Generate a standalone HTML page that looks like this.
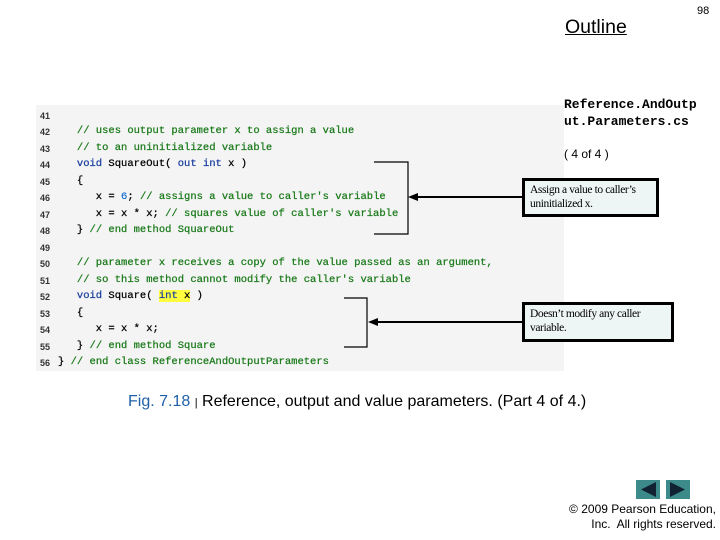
<!DOCTYPE html>
<html><head><style>
body{margin:0;width:720px;height:540px;background:#fff;position:relative;overflow:hidden;font-family:"Liberation Sans",sans-serif}
.a{position:absolute}
.code{left:36px;top:105px;width:528px;height:266px;background:#f4f4f4}
.ln{position:absolute;left:40px;font:bold 9px "Liberation Sans",sans-serif;color:#333}
.c{position:absolute;left:58px;font:10.5px "Liberation Mono",monospace;white-space:pre;color:#000;-webkit-text-stroke:0.25px}
.g{color:#1a7a1a}.b{color:#1a3fa0}.n{color:#1a6fd0}
.box{position:absolute;border:3px solid #000;background:#eef5f5;font:11.5px "Liberation Serif",serif;letter-spacing:-0.4px;line-height:14px;padding:2px 5px;box-sizing:border-box;white-space:nowrap}
</style></head><body>
<div class="a" style="left:565px;top:16px;font-size:19.5px;text-decoration:underline">Outline</div>
<div class="a" style="left:697px;top:5px;font-size:11px">98</div>
<div class="a" style="left:564px;top:96px;font:bold 13px 'Liberation Mono',monospace;line-height:17px">Reference.AndOutp<br>ut.Parameters.cs</div>
<div class="a" style="left:564px;top:147px;font-size:12px">( 4 of 4 )</div>
<div class="a code"></div>
<div class="ln" style="top:111px">41</div>
<div class="ln" style="top:127px">42</div><div class="c" style="top:125px">   <span class="g">// uses output parameter x to assign a value</span></div>
<div class="ln" style="top:144px">43</div><div class="c" style="top:142px">   <span class="g">// to an uninitialized variable</span></div>
<div class="ln" style="top:160px">44</div><div class="c" style="top:158px">   <span class="b">void</span> SquareOut( <span class="b">out int</span> x )</div>
<div class="ln" style="top:177px">45</div><div class="c" style="top:175px">   {</div>
<div class="ln" style="top:193px">46</div><div class="c" style="top:191px">      x = <span class="n">6</span>; <span class="g">// assigns a value to caller's variable</span></div>
<div class="ln" style="top:210px">47</div><div class="c" style="top:208px">      x = x * x; <span class="g">// squares value of caller's variable</span></div>
<div class="ln" style="top:226px">48</div><div class="c" style="top:224px">   } <span class="g">// end method SquareOut</span></div>
<div class="ln" style="top:243px">49</div>
<div class="ln" style="top:259px">50</div><div class="c" style="top:257px">   <span class="g">// parameter x receives a copy of the value passed as an argument,</span></div>
<div class="ln" style="top:276px">51</div><div class="c" style="top:274px">   <span class="g">// so this method cannot modify the caller's variable</span></div>
<div class="ln" style="top:292px">52</div><div class="c" style="top:290px">   <span class="b">void</span> Square( <span style="background:#ffff40"><span class="b">int</span> x</span> )</div>
<div class="ln" style="top:309px">53</div><div class="c" style="top:307px">   {</div>
<div class="ln" style="top:325px">54</div><div class="c" style="top:323px">      x = x * x;</div>
<div class="ln" style="top:342px">55</div><div class="c" style="top:340px">   } <span class="g">// end method Square</span></div>
<div class="ln" style="top:358px">56</div><div class="c" style="top:356px">} <span class="g">// end class ReferenceAndOutputParameters</span></div>
<svg class="a" style="left:0;top:0" width="720" height="540">
<path d="M374 162H408V234H374M344 298H367V347H344" fill="none" stroke="#000" stroke-width="1.2"/>
<line x1="522" y1="197" x2="416" y2="197" stroke="#000" stroke-width="2"/>
<polygon points="408,197 418,193 418,201" fill="#000"/>
<line x1="522" y1="322" x2="376" y2="322" stroke="#000" stroke-width="2"/>
<polygon points="368,322 378,318 378,326" fill="#000"/>
<rect x="636" y="480" width="24" height="19" fill="#3d8a8a"/>
<polygon points="641,489.5 656,482 656,497" fill="#123"/>
<rect x="666" y="480" width="24" height="19" fill="#3d8a8a"/>
<polygon points="685,489.5 670,482 670,497" fill="#123"/>
</svg>
<div class="box" style="left:522px;top:178px;width:137px;height:39px">Assign a value to caller’s<br>uninitialized x.</div>
<div class="box" style="left:522px;top:302px;width:152px;height:40px">Doesn’t modify any caller<br>variable.</div>
<div class="a" style="left:128px;top:393px;font-size:16px"><span style="color:#1f5fa8">Fig. 7.18</span> <span style="font-size:11px">|</span> Reference, output and value parameters. (Part 4 of 4.)</div>
<div class="a" style="left:540px;top:502px;width:176px;text-align:right;font-size:12px;line-height:15px">© 2009 Pearson Education,<br>Inc.&nbsp; All rights reserved.</div>
</body></html>
